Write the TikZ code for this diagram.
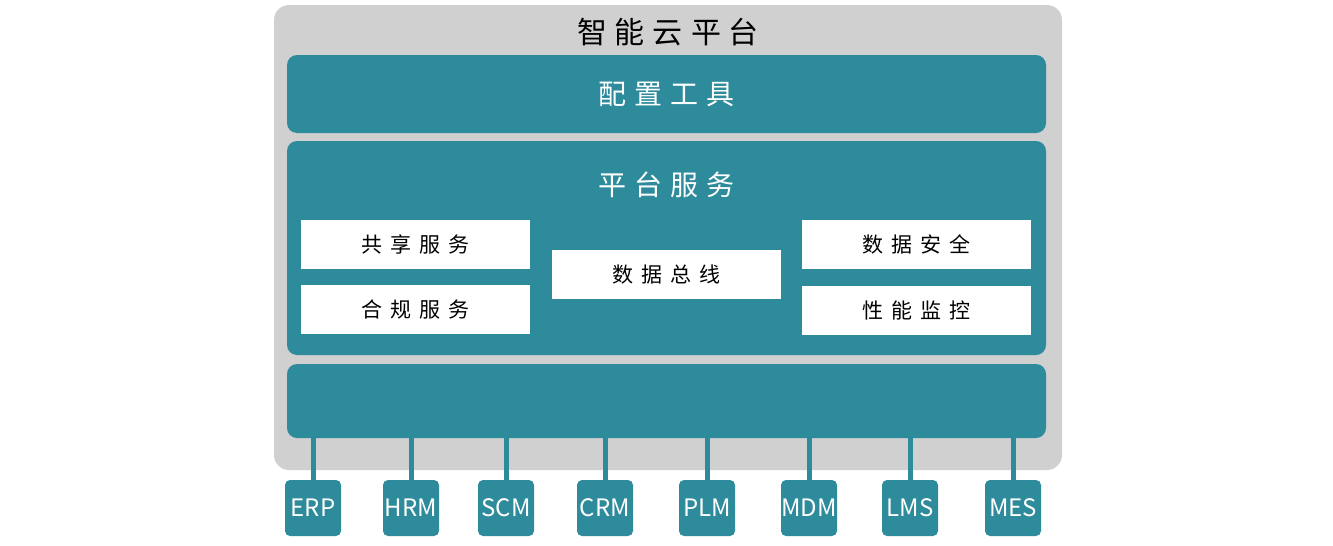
\documentclass[tikz,border=0pt]{standalone}
\usepackage{fontspec}
\setmainfont{Noto Sans CJK SC}
\definecolor{teal}{RGB}{45,139,155}
\definecolor{panel}{RGB}{207,208,207}
\newcommand\cg{\hspace{8pt}}
\begin{document}
\begin{tikzpicture}[x=1pt,y=-1pt,
  bar/.style={fill=teal,rounded corners=10pt,inner sep=0pt,minimum width=759pt},
  wbox/.style={fill=white,inner sep=0pt,minimum width=229pt,minimum height=49pt,font=\fontsize{21}{25}\selectfont},
  sys/.style={fill=teal,rounded corners=5pt,inner sep=0pt,minimum width=56pt,minimum height=56pt,text=white,font=\fontsize{24}{28}\selectfont},
  link/.style={draw=teal,line width=5pt}]
\useasboundingbox (0,0) rectangle (1333,546);
\node[fill=panel,rounded corners=15pt,inner sep=0pt,minimum width=788pt,minimum height=465pt] (outer) at (668,237.5) {};
\node[font=\fontsize{30}{36}\selectfont] (title) at (668,32) {智\cg 能\cg 云\cg 平\cg 台};
\node[bar,minimum height=78pt,text=white,font=\fontsize{28}{34}\selectfont] (config) at (666.5,94) {配\cg 置\cg 工\cg 具};
\node[bar,minimum height=214pt] (platform) at (666.5,248) {};
\node[text=white,font=\fontsize{28}{34}\selectfont] (ptitle) at (666.5,185) {平\cg 台\cg 服\cg 务};
\node[wbox] (share) at (415.5,244.5) {共\cg 享\cg 服\cg 务};
\node[wbox] (comply) at (415.5,309.5) {合\cg 规\cg 服\cg 务};
\node[wbox] (busline) at (666.5,274.5) {数\cg 据\cg 总\cg 线};
\node[wbox] (secure) at (916.5,244.5) {数\cg 据\cg 安\cg 全};
\node[wbox] (monitor) at (916.5,310) {性\cg 能\cg 监\cg 控};
\node[bar,minimum height=74pt] (bus) at (666.5,401) {};
\foreach \n/\x in {ERP/313,HRM/411,SCM/506,CRM/605,PLM/707,MDM/809,LMS/910,MES/1013}{
  \node[sys] (\n) at (\x,508) {\n};
  \draw[link] (bus.south -| \n.north) -- (\n.north);
}
\end{tikzpicture}
\end{document}
